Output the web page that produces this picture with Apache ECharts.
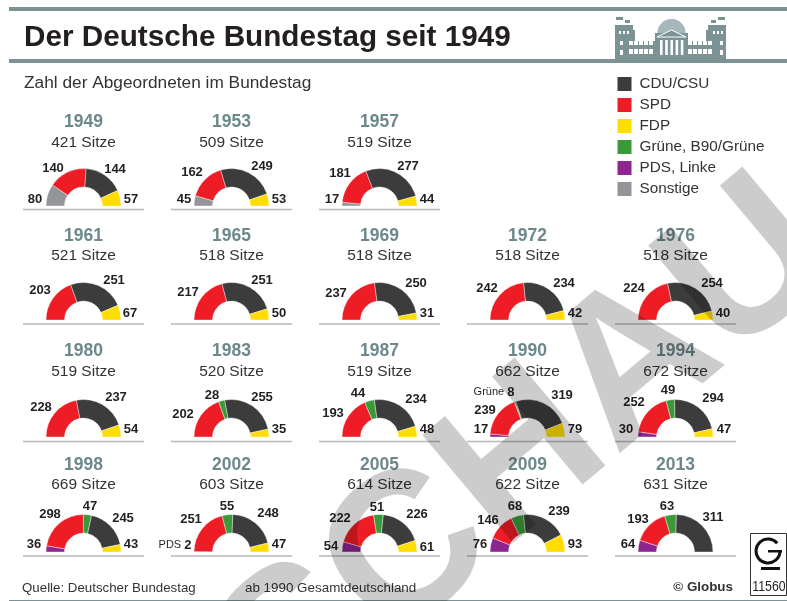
<!DOCTYPE html>
<html>
<head>
<meta charset="utf-8">
<title>Der Deutsche Bundestag seit 1949</title>
<script src="https://cdn.jsdelivr.net/npm/echarts@6/dist/echarts.min.js"></script>
<style>
  html, body { margin: 0; padding: 0; background: #fff; }
  #chart { width: 787px; height: 601px; }
</style>
</head>
<body>
<div id="chart"></div>
<script>
// seats per election, 0 = party not in that Bundestag
var years    = [1949, 1953, 1957, 1961, 1965, 1969, 1972, 1976, 1980, 1983, 1987, 1990, 1994, 1998, 2002, 2005, 2009, 2013]
var totals   = [421, 509, 519, 521, 518, 518, 518, 518, 519, 520, 519, 662, 672, 669, 603, 614, 622, 631]
var sonstige = [80, 45, 17, 0, 0, 0, 0, 0, 0, 0, 0, 0, 0, 0, 0, 0, 0, 0]
var linke    = [0, 0, 0, 0, 0, 0, 0, 0, 0, 0, 0, 17, 30, 36, 2, 54, 76, 64]
var spd      = [140, 162, 181, 203, 217, 237, 242, 224, 228, 202, 193, 239, 252, 298, 251, 222, 146, 193]
var gruene   = [0, 0, 0, 0, 0, 0, 0, 0, 0, 28, 44, 8, 49, 47, 55, 51, 68, 63]
var cdu      = [144, 249, 277, 251, 251, 250, 234, 254, 237, 255, 234, 319, 294, 245, 248, 226, 239, 311]
var fdp      = [57, 53, 44, 67, 50, 31, 42, 40, 54, 35, 48, 79, 47, 43, 47, 61, 93, 0]

var partyNames = ['CDU/CSU', 'SPD', 'FDP', 'Grüne, B90/Grüne', 'PDS, Linke', 'Sonstige']

var colors = {
  'CDU/CSU': '#3c3c3c',
  'SPD': '#ee1c25',
  'FDP': '#ffdd00',
  'Grüne, B90/Grüne': '#3a9a3a',
  'PDS, Linke': '#8e2490',
  'Sonstige': '#939598'
}

// layout of the small multiples
var colX = [83.5, 231.5, 379.5, 527.5, 675.5]
var rowBase = [206, 320, 437, 552]
var rowYear = [122, 236, 351, 465]
var rowSeats = [143, 256, 372, 485]
var rowRule = [209.5, 324, 441.5, 556]
var slots = [[0,0],[0,1],[0,2],
             [1,0],[1,1],[1,2],[1,3],[1,4],
             [2,0],[2,1],[2,2],[2,3],[2,4],
             [3,0],[3,1],[3,2],[3,3],[3,4]]

// where the value labels sit (centre of text), one list per year in slice order
var labelSpots = [
  [[35,199],[53,168],[115,169],[131,199]],
  [[184,199],[192,172],[262,166],[279,199]],
  [[332,199],[340,173],[408,166],[427,199]],
  [[40,290],[114,280],[130,313]],
  [[188,292],[262,280],[279,313]],
  [[336,293],[416,283],[427,313]],
  [[487,288],[564,283],[575,313]],
  [[634,288],[712,283],[723,313]],
  [[41,407],[116,397],[131,429]],
  [[183,414],[212,395],[262,397],[279,429]],
  [[333,413],[358,393],[416,399],[427,429]],
  [[481,429],[485,410],[494,392],[562,395],[575,429]],
  [[626,429],[634,402],[668,390],[713,398],[724,429]],
  [[34,544],[50,514],[90,506],[123,518],[131,544]],
  [[175,545],[191,519],[227,506],[268,513],[279,544]],
  [[331,546],[340,518],[377,507],[417,514],[427,547]],
  [[480,544],[488,520],[515,506],[559,511],[575,544]],
  [[628,544],[638,519],[667,506],[713,517]]
]

var FONT = '"Liberation Sans", Arial, sans-serif'
var TEAL = '#7b9395'

var series = []
var titles = []
var graphics = []

years.forEach(function (year, i) {
  var row = slots[i][0]
  var col = slots[i][1]
  var x = colX[col]

  var slices = [
    { name: 'Sonstige', value: sonstige[i] },
    { name: 'PDS, Linke', value: linke[i] },
    { name: 'SPD', value: spd[i] },
    { name: 'Grüne, B90/Grüne', value: gruene[i] },
    { name: 'CDU/CSU', value: cdu[i] },
    { name: 'FDP', value: fdp[i] }
  ].filter(function (d) { return d.value > 0 })
  slices.forEach(function (d) { d.itemStyle = { color: colors[d.name] } })

  series.push({
    type: 'pie',
    silent: true,
    animation: false,
    avoidLabelOverlap: false,
    center: [x, rowBase[row]],
    radius: [19, 37.5],
    startAngle: 180,
    endAngle: 0,
    itemStyle: { borderColor: '#fff', borderWidth: 0.4 },
    label: {
      show: true,
      position: 'outside',
      formatter: function (p) {
        if (year === 1990 && p.name === 'Grüne, B90/Grüne') return '{n|Grüne }' + p.value
        if (year === 2002 && p.name === 'PDS, Linke') return '{n|PDS }' + p.value
        return '' + p.value
      },
      fontFamily: FONT,
      fontSize: 13,
      fontWeight: 'bold',
      color: '#231f20',
      rich: { n: { fontFamily: FONT, fontSize: 11, fontWeight: 'normal', color: '#231f20' } }
    },
    labelLine: { show: false },
    labelLayout: function (p) {
      var spot = labelSpots[i][p.dataIndex]
      return { x: spot[0], y: spot[1], align: 'center', verticalAlign: 'middle' }
    },
    data: slices
  })

  titles.push({
    text: String(year),
    left: x,
    top: rowYear[row] - 9,
    padding: 0,
    textAlign: 'center',
    textStyle: { fontFamily: FONT, fontSize: 17.5, fontWeight: 'bold', color: '#6d888a' }
  })
  titles.push({
    text: totals[i] + ' Sitze',
    left: x,
    top: rowSeats[row] - 8,
    padding: 0,
    textAlign: 'center',
    textStyle: { fontFamily: FONT, fontSize: 15.5, fontWeight: 'normal', color: '#333' }
  })

  graphics.push({
    type: 'line',
    silent: true,
    shape: { x1: x - 60.5, y1: rowRule[row], x2: x + 60.5, y2: rowRule[row] },
    style: { stroke: '#b9b9b9', lineWidth: 1.4 }
  })
})

function rect(x, y, w, h, fill) {
  return { type: 'rect', shape: { x: x, y: y, width: w, height: h }, style: { fill: fill || TEAL }, silent: true }
}
function label(text, x, y, size, weight, color, align) {
  return {
    type: 'text', x: x, y: y, silent: true,
    style: { text: text, fontFamily: FONT, fontSize: size, fontWeight: weight || 'normal', fill: color || '#333', textAlign: align || 'left', textVerticalAlign: 'middle' }
  }
}

// frame rules
graphics.push(rect(9, 7, 778, 4))
graphics.push(rect(9, 59, 778, 4))
graphics.push(rect(9, 600, 778, 1))

// header texts
graphics.push(label('Der Deutsche Bundestag seit 1949', 24, 38, 29.7, 'bold', '#231f20'))
graphics.push(label('Zahl der Abgeordneten im Bundestag', 24, 83, 17.3, 'normal', '#333'))

// footer
graphics.push(label('Quelle: Deutscher Bundestag', 22, 588, 13.3))
graphics.push(label('ab 1990 Gesamtdeutschland', 245, 588, 13.4))
graphics.push(label('© Globus', 733, 587, 13.4, 'bold', '#333', 'right'))

// logo box
graphics.push({
  type: 'rect', silent: true,
  shape: { x: 750.5, y: 533.5, width: 36, height: 62 },
  style: { fill: 'none', stroke: '#333', lineWidth: 1 }
})
graphics.push({
  type: 'arc', silent: true,
  shape: { cx: 768, cy: 551, r: 12, startAngle: -0.7, endAngle: 0, clockwise: false },
  style: { fill: 'none', stroke: '#111', lineWidth: 3 }
})
graphics.push(rect(768, 550, 14, 2.5, '#111'))
graphics.push(rect(761, 567, 19, 3, '#111'))
var logoNumber = label('11560', 769, 587, 14, 'normal', '#222', 'center')
logoNumber.scaleX = 0.88
graphics.push(logoNumber)

// reichstag silhouette
;[
  [615, 25, 18, 34], [708, 25, 18, 34], [615, 41, 111, 18], [655, 33, 33, 26],
  [633, 30, 2, 11], [706, 30, 2, 11],
  [616, 17, 7, 3], [625, 20, 5, 3], [711, 20, 5, 3], [718, 17, 7, 3],
  [662, 27, 19, 6]
].forEach(function (r) { graphics.push(rect(r[0], r[1], r[2], r[3])) })
graphics.push({
  type: 'sector', silent: true,
  shape: { cx: 671.5, cy: 33, r0: 0, r: 14, startAngle: Math.PI, endAngle: 0 },
  style: { fill: '#a5b7b8' }
})
graphics.push({
  type: 'polyline', silent: true,
  shape: { points: [[657, 37], [671.5, 30], [686, 37], [657, 37]] },
  style: { fill: TEAL, stroke: '#fff', lineWidth: 1 }
})
// windows and columns
;[
  [619, 31, 2, 3], [623, 31, 2, 3], [627, 31, 2, 3], [713, 31, 2, 3], [717, 31, 2, 3], [721, 31, 2, 3],
  [620, 41, 3, 4], [620, 50, 3, 5], [720, 41, 3, 4], [720, 50, 3, 5]
].forEach(function (r) { graphics.push(rect(r[0], r[1], r[2], r[3], '#fff')) })
for (var w = 0; w < 5; w++) {
  graphics.push(rect(629 + w * 5, 41, 4, 4, '#fff'))
  graphics.push(rect(629 + w * 5, 49, 4, 5, '#fff'))
  graphics.push(rect(688 + w * 5, 41, 4, 4, '#fff'))
  graphics.push(rect(688 + w * 5, 49, 4, 5, '#fff'))
}
for (var c = 0; c < 5; c++) {
  graphics.push(rect(660 + c * 5.2, 40, 2.6, 15, '#fff'))
}

// watermark, black at 20% darkens what lies under it like the print overlay
graphics.push({
  type: 'text',
  silent: true,
  z: 100,
  x: 357,
  y: 600,
  rotation: 40 * Math.PI / 180,
  style: {
    text: 'VORSCHAU',
    fontFamily: FONT,
    fontSize: 205,
    fontWeight: 'bold',
    fill: 'rgba(0,0,0,0.2)',
    textAlign: 'center',
    textVerticalAlign: 'middle'
  }
})

var chart = echarts.init(document.getElementById('chart'), null, { renderer: 'canvas' })
chart.setOption({
  animation: false,
  backgroundColor: '#fff',
  textStyle: { fontFamily: FONT },
  title: titles,
  legend: {
    orient: 'vertical',
    left: 615.5,
    top: 75,
    padding: 0,
    icon: 'rect',
    itemWidth: 16,
    itemHeight: 16,
    itemGap: 3,
    selectedMode: false,
    data: partyNames,
    textStyle: { fontFamily: FONT, fontSize: 15.3, color: '#333', padding: [0, 0, 0, 2] }
  },
  series: series,
  graphic: graphics
})
</script>
</body>
</html>
